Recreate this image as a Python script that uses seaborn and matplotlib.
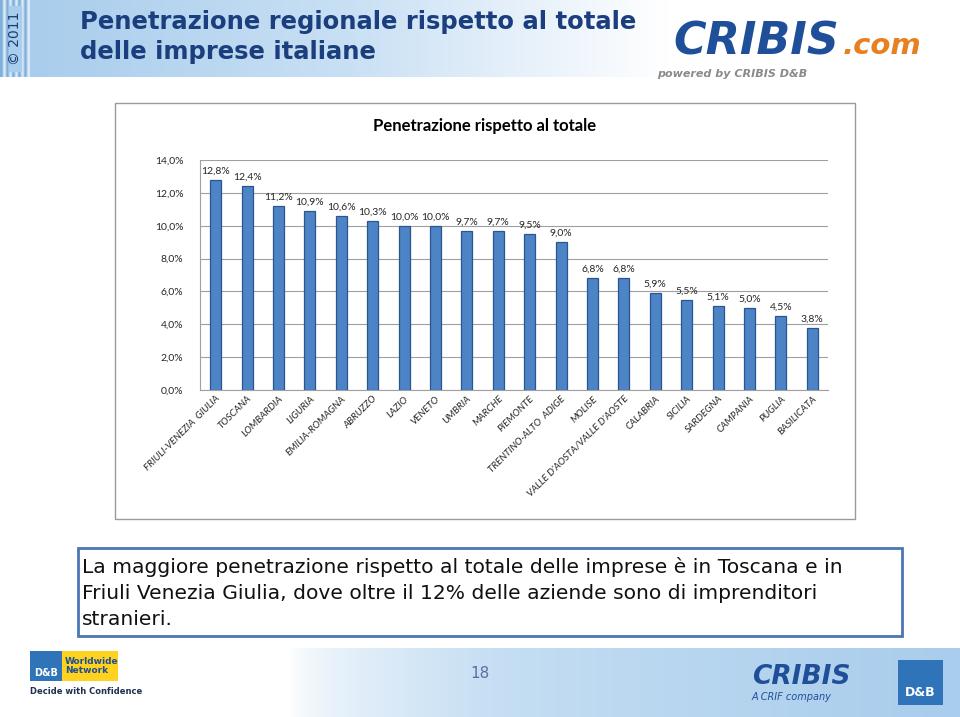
import matplotlib
matplotlib.use("Agg")
import matplotlib.pyplot as plt
from matplotlib.patches import Rectangle
from matplotlib.colors import LinearSegmentedColormap
import numpy as np
import seaborn as sns

# data
regions = ["FRIULI-VENEZIA  GIULIA", "TOSCANA", "LOMBARDIA", "LIGURIA", "EMILIA-ROMAGNA",
           "ABRUZZO", "LAZIO", "VENETO", "UMBRIA", "MARCHE", "PIEMONTE",
           "TRENTINO-ALTO  ADIGE", "MOLISE", "VALLE D'AOSTA/VALLE D'AOSTE", "CALABRIA",
           "SICILIA", "SARDEGNA", "CAMPANIA", "PUGLIA", "BASILICATA"]
values = [12.8, 12.4, 11.2, 10.9, 10.6, 10.3, 10.0, 10.0, 9.7, 9.7, 9.5,
          9.0, 6.8, 6.8, 5.9, 5.5, 5.1, 5.0, 4.5, 3.8]
yticks = [0, 2, 4, 6, 8, 10, 12, 14]

title_1 = "Penetrazione regionale rispetto al totale"
title_2 = "delle imprese italiane"
chart_title = "Penetrazione rispetto al totale"
note = ("La maggiore penetrazione rispetto al totale delle imprese è in Toscana e in\n"
        "Friuli Venezia Giulia, dove oltre il 12% delle aziende sono di imprenditori\n"
        "stranieri.")

sns.set_style("white")
plt.rcParams["font.family"] = ["DejaVu Sans"]

W, H = 960, 717
fig = plt.figure(figsize=(W / 100, H / 100), dpi=100)
fig.patch.set_facecolor("white")


def fx(x):
    return x / W


def fy(y):
    return 1 - y / H


# header gradient band
blue_fade = LinearSegmentedColormap.from_list("bf", ["#a9cdec", "#c9e0f4", "#ffffff"])
hax = fig.add_axes([fx(30), fy(77), fx(640), 77 / H])
hax.imshow(np.linspace(0, 1, 256)[None, :], aspect="auto", cmap=blue_fade)
hax.axis("off")

# left strip with year
sax = fig.add_axes([0, fy(77), fx(30), 77 / H])
sax.imshow(np.array([[0, 1, 0, 1, 0, 1, 0, 1, 0, 1]]), aspect="auto",
           cmap=LinearSegmentedColormap.from_list("s", ["#7fb0dc", "#dbe9f6"]))
sax.axis("off")
sax.add_patch(Rectangle((2.5, -0.42), 4, 0.84, color="#a9cdec", zorder=2))
sax.text(4.5, 0, "© 2011", rotation=90, ha="center", va="center", fontsize=10,
         color="#1a3c78", zorder=3)

fig.text(fx(80), fy(22), title_1, fontsize=17.5, fontweight="bold", color="#1b3f7e",
         va="center", ha="left")
fig.text(fx(80), fy(52), title_2, fontsize=17.5, fontweight="bold", color="#1b3f7e",
         va="center", ha="left")

# CRIBIS logo
fig.text(fx(673), fy(42), "CRIBIS", fontsize=32, fontweight="heavy", style="italic",
         color="#1f4f98", va="center", ha="left")
fig.text(fx(843), fy(46), ".com", fontsize=21, fontweight="bold", style="italic",
         color="#e8801f", va="center", ha="left")
fig.text(fx(657), fy(74), "powered by CRIBIS D&B", fontsize=8, fontweight="bold",
         style="italic", color="#8a8a8a", va="center", ha="left")

# chart frame (behind the axes)
fig.add_artist(Rectangle((fx(115), fy(519)), fx(740), 416 / H, transform=fig.transFigure,
                         facecolor="white", edgecolor="#9a9a9a", lw=1, zorder=-1))
fig.text(fx(485), fy(126), chart_title, fontsize=12, fontweight="bold", family="Lato",
         ha="center", va="center", color="black")

ax = fig.add_axes([fx(200), fy(390), fx(628), 230 / H])
ax.patch.set_alpha(0)
sns.barplot(x=regions, y=values, color="#4d84c6", width=0.35, edgecolor="#2b5590",
            linewidth=0.9, saturation=1, ax=ax)
ax.set_ylim(0, 14)
ax.set_xlim(-0.5, len(regions) - 0.5)
ax.set_yticks(yticks)
ax.set_yticklabels([f"{v:.1f}%".replace(".", ",") for v in yticks], fontsize=7.5,
                   family="Lato")
ax.tick_params(axis="y", length=0, pad=12)
ax.tick_params(axis="x", length=0, pad=3)
ax.set_xticks(range(len(regions)))
ax.set_xticklabels(regions, rotation=45, ha="right", rotation_mode="anchor",
                   fontsize=7, style="italic", family="Lato")
ax.yaxis.grid(True, color="#a0a0a0", lw=0.8)
ax.set_axisbelow(True)
for s in ["top", "right"]:
    ax.spines[s].set_visible(False)
for s in ["left", "bottom"]:
    ax.spines[s].set_color("#a0a0a0")
ax.set_xlabel("")
ax.set_ylabel("")
ax.bar_label(ax.containers[0], labels=[f"{v:.1f}%".replace(".", ",") for v in values],
             fontsize=7.5, family="Lato", padding=3)

# note box
fig.add_artist(Rectangle((fx(78), fy(636)), fx(824), 88 / H, transform=fig.transFigure,
                         facecolor="white", edgecolor="#4a76b4", lw=2))
fig.text(fx(82), fy(593), note, fontsize=14.6, family="DejaVu Sans",
         ha="left", va="center", linespacing=1.45, color="#111111")

# footer band
foot_fade = LinearSegmentedColormap.from_list("ff", ["#ffffff", "#c5def3", "#a9cdec"])
fax = fig.add_axes([fx(290), 0, fx(670), 69 / H])
fax.imshow(np.linspace(0, 1, 256)[None, :] ** 0.6, aspect="auto", cmap=foot_fade)
fax.axis("off")
fig.text(fx(480), fy(673), "18", fontsize=11, color="#5b6f9e", ha="center", va="center")

# left footer logo
fig.add_artist(Rectangle((fx(30), fy(681)), fx(32), 30 / H, transform=fig.transFigure,
                         facecolor="#2f73b8", edgecolor="none"))
fig.text(fx(46), fy(673), "D&B", fontsize=7, fontweight="bold", color="white",
         ha="center", va="center")
fig.add_artist(Rectangle((fx(62), fy(681)), fx(56), 30 / H, transform=fig.transFigure,
                         facecolor="#ffd21f", edgecolor="none"))
fig.text(fx(65), fy(666), "Worldwide\nNetwork", fontsize=6.5, fontweight="bold",
         color="#1f4f98", ha="left", va="center", linespacing=1.1)
fig.text(fx(30), fy(692), "Decide with Confidence", fontsize=6, fontweight="bold",
         color="#1f3050", ha="left", va="center")

# right footer logo
fig.text(fx(752), fy(677), "CRIBIS", fontsize=19, fontweight="heavy", style="italic",
         color="#1f4f98", ha="left", va="center")
fig.text(fx(752), fy(697), "A CRIF company", fontsize=7, style="italic",
         color="#1f4f98", ha="left", va="center")
fig.add_artist(Rectangle((fx(898), fy(705)), fx(45), 45 / H, transform=fig.transFigure,
                         facecolor="#2f73b8", edgecolor="none"))
fig.text(fx(920), fy(692), "D&B", fontsize=9, fontweight="bold", color="white",
         ha="center", va="center")

fig.savefig("out.png", dpi=100)
